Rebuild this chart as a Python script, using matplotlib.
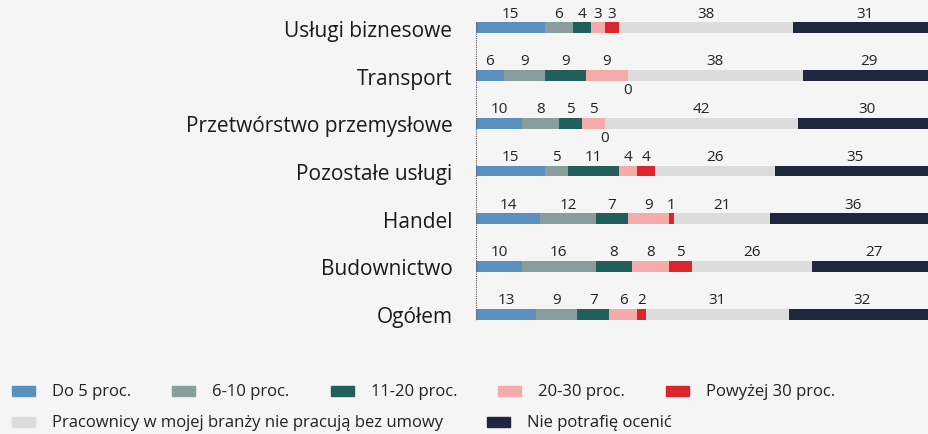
import numpy as np
import matplotlib.pyplot as plt
from matplotlib.patches import Rectangle

plt.rcParams['font.family'] = ['Open Sans', 'DejaVu Sans']

categories = ['Usługi biznesowe', 'Transport', 'Przetwórstwo przemysłowe',
              'Pozostałe usługi', 'Handel', 'Budownictwo', 'Ogółem']
series_names = ['Do 5 proc.', '6-10 proc.', '11-20 proc.', '20-30 proc.',
                'Powyżej 30 proc.', 'Pracownicy w mojej branży nie pracują bez umowy',
                'Nie potrafię ocenić']
do5 = [15, 6, 10, 15, 14, 10, 13]
p6_10 = [6, 9, 8, 5, 12, 16, 9]
p11_20 = [4, 9, 5, 11, 7, 8, 7]
p20_30 = [3, 9, 5, 4, 9, 8, 6]
pow30 = [3, 0, 0, 4, 1, 5, 2]
bez_umowy = [38, 38, 42, 26, 21, 26, 31]
nie_wiem = [31, 29, 30, 35, 36, 27, 32]

colors = ['#5b90be', '#8a9d9d', '#235f5a', '#f6abab', '#da272f', '#dcdcdc', '#212640']
bg = '#f5f5f5'

data = np.array([do5, p6_10, p11_20, p20_30, pow30, bez_umowy, nie_wiem])

W, H = 929, 435
fig = plt.figure(figsize=(W / 100, H / 100), dpi=100, facecolor=bg)
# axes in pixel units: left 476, right 936 (clipped by figure edge)
ax_l, ax_r, ax_t, ax_b = 476, 936, 5, 339
ax = fig.add_axes([ax_l / W, 1 - ax_b / H, (ax_r - ax_l) / W, (ax_b - ax_t) / H])
ax.set_facecolor(bg)
ax.set_xlim(0, 100)
ax.set_ylim(len(categories) - 0.5, -0.5)

y = np.arange(len(categories))
bh = 0.23
left = np.zeros(len(categories))
for k in range(len(series_names)):
    vals = data[k]
    ax.barh(y, vals, left=left, height=bh, color=colors[k], edgecolor='none')
    for i, v in enumerate(vals):
        if v > 0:
            ax.annotate(str(v), (left[i] + v / 2, y[i]), xytext=(0, 10.5),
                        textcoords='offset points', ha='center', va='center',
                        fontsize=11, color='#222222')
        else:
            ax.annotate(str(v), (left[i], y[i]), xytext=(0, -10),
                        textcoords='offset points', ha='center', va='center',
                        fontsize=11, color='#222222')
    left += vals

ax.vlines(0, -bh / 2, len(categories) - 1 + bh / 2, colors='#555555',
          linestyles=(0, (1, 1)), linewidth=0.8)

ax.set_yticks(y)
ax.set_yticklabels(categories, fontsize=15, color='#1a1a1a')
ax.tick_params(axis='y', length=0, pad=17)
ax.set_xticks([])
for s in ax.spines.values():
    s.set_visible(False)

# legend drawn by hand (two rows, uneven spacing)
leg_pos = [(12, 392), (172, 392), (331, 392), (498, 392), (666, 392),
           (12, 423), (487, 423)]
for k, (px, py) in enumerate(leg_pos):
    fig.patches.append(Rectangle((px / W, 1 - (py + 5) / H), 23 / W, 10 / H,
                                 transform=fig.transFigure, color=colors[k]))
    fig.text((px + 40) / W, 1 - py / H, series_names[k], fontsize=12,
             color='#222222', va='center', ha='left')

fig.savefig('out.png', dpi=100, facecolor=bg)
